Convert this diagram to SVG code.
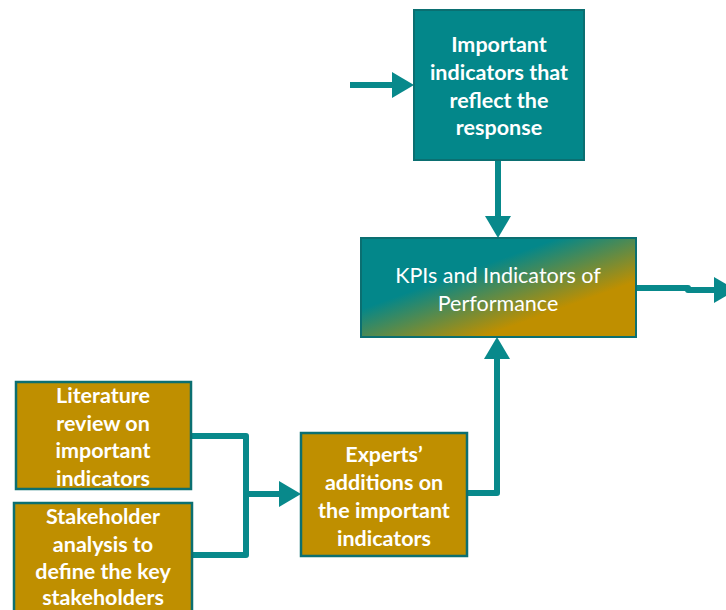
<svg xmlns="http://www.w3.org/2000/svg" width="726" height="610" viewBox="0 0 726 610">
<style>
.teal{fill:#03878a;stroke:#0b6f71;stroke-width:2}
.gold{fill:#bf8f00;stroke:#0b6f71;stroke-width:2.5}
.t{font-family:Lato,"Open Sans","Liberation Sans",sans-serif;font-size:21.5px;font-weight:bold;fill:#ffffff;text-anchor:middle}
.n{font-family:Lato,"Open Sans","Liberation Sans",sans-serif;font-size:21.5px;fill:#ffffff;text-anchor:middle}
.c{fill:none;stroke:#08898b;stroke-width:6;stroke-linejoin:round}
</style>
<defs>
<linearGradient id="g" x1="0" y1="0" x2="1" y2="1">
<stop offset="0.36" stop-color="#03878a"/>
<stop offset="0.72" stop-color="#bf8f00"/>
</linearGradient>
<marker id="ah" markerUnits="userSpaceOnUse" markerWidth="24" markerHeight="26" refX="0" refY="13" orient="auto" overflow="visible">
<path d="M0,0 L22,13 L0,26 Z" fill="#08898b"/>
</marker>
</defs>
<g id="connectors">
<path class="c" d="M350,85 L392,85" marker-end="url(#ah)"/>
<path class="c" d="M498,160 L498,216" marker-end="url(#ah)"/>
<path class="c" d="M636,288 L688,288 L688,290 L714,290" marker-end="url(#ah)"/>
<path class="c" d="M467,493 L497,493 L497,359" marker-end="url(#ah)"/>
<path class="c" d="M191,436 L246,436 L246,555 L192,555"/>
<path class="c" d="M246,494 L279,494" marker-end="url(#ah)"/>
</g>
<g id="important">
<rect class="teal" x="414" y="10" width="170" height="150"/>
<text class="t" x="499" y="52">Important</text>
<text class="t" x="499" y="80">indicators that</text>
<text class="t" x="499" y="108">reflect the</text>
<text class="t" x="499" y="135">response</text>
</g>
<g id="kpi">
<rect x="361" y="238" width="275" height="99" fill="url(#g)" stroke="#0b6f71" stroke-width="2"/>
<text class="n" x="498" y="283">KPIs and Indicators of</text>
<text class="n" x="498" y="311">Performance</text>
</g>
<g id="literature">
<rect class="gold" x="16" y="382" width="175" height="107"/>
<text class="t" x="103" y="403">Literature</text>
<text class="t" x="103" y="431">review on</text>
<text class="t" x="103" y="458">important</text>
<text class="t" x="103" y="486">indicators</text>
</g>
<g id="stakeholder">
<rect class="gold" x="14" y="503" width="178" height="112"/>
<text class="t" x="103" y="524">Stakeholder</text>
<text class="t" x="103" y="552">analysis to</text>
<text class="t" x="103" y="579">define the key</text>
<text class="t" x="103" y="605">stakeholders</text>
</g>
<g id="experts">
<rect class="gold" x="301" y="433" width="166" height="123"/>
<text class="t" x="384" y="462">Experts’</text>
<text class="t" x="384" y="490">additions on</text>
<text class="t" x="384" y="518">the important</text>
<text class="t" x="384" y="546">indicators</text>
</g>
</svg>
